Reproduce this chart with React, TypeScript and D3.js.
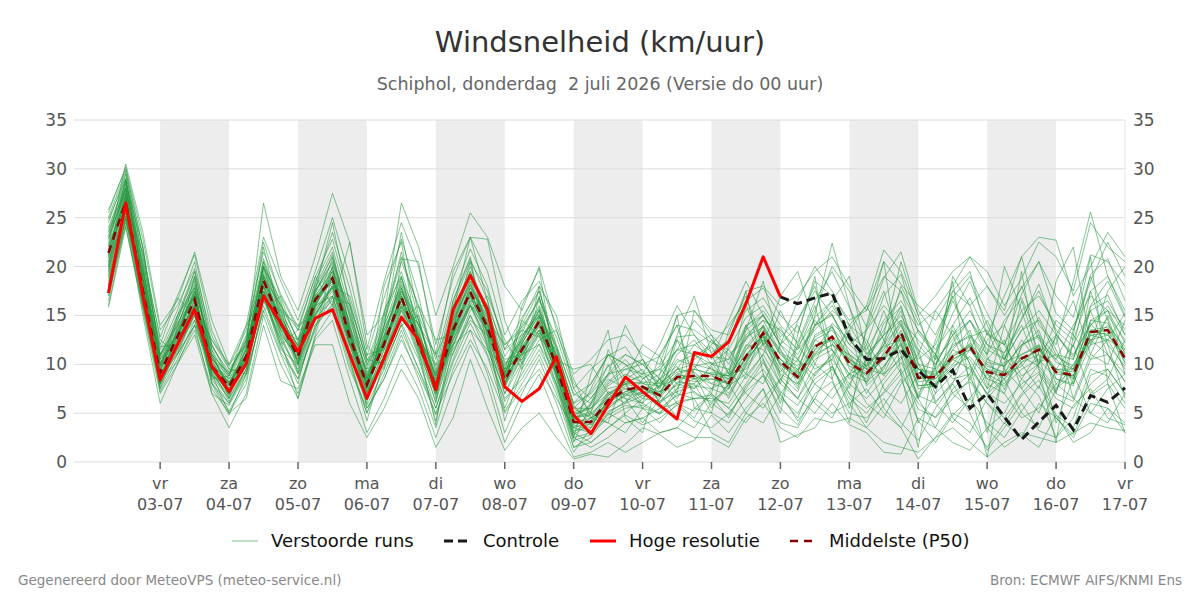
import React, { useMemo } from 'react';
import * as d3 from 'd3';

const dayNames = ['vr', 'za', 'zo', 'ma', 'di', 'wo', 'do', 'vr', 'za', 'zo', 'ma', 'di', 'wo', 'do', 'vr'];
const dayDates = ['03-07', '04-07', '05-07', '06-07', '07-07', '08-07', '09-07', '10-07', '11-07', '12-07', '13-07', '14-07', '15-07', '16-07', '17-07'];
const yTicks = [0, 5, 10, 15, 20, 25, 30, 35];

// hours relative to 03-07 00:00, 6-hourly steps
const firstHour = -18;
const stepHours = 6;

const hogeResolutie = [17.3, 26.5, 17.0, 8.4, 12.0, 15.6, 9.75, 7.2, 10.1, 17.0, 14.2, 11.3, 14.7, 15.6, 11.0, 6.5, 10.6, 14.8, 12.5, 7.4, 15.6, 19.1, 15.6, 7.7, 6.2, 7.5, 10.8, 4.8, 2.9, 5.8, 8.7, 7.2, 5.8, 4.4, 11.2, 10.8, 12.3, 16.2, 21.0, 16.9];
const controleStart = 39;
const controle = [16.9, 16.2, 16.8, 17.3, 12.8, 10.5, 10.6, 11.5, 9.4, 7.7, 9.4, 5.5, 7.0, 4.6, 2.3, 4.1, 5.8, 3.3, 6.8, 6.1, 7.6];
const middelste = [21.4, 26.6, 17.5, 9.1, 12.8, 16.6, 9.8, 7.7, 10.8, 18.6, 14.2, 10.8, 16.6, 18.8, 12.8, 7.9, 12.1, 16.9, 12.1, 7.7, 13.5, 17.4, 13.8, 8.4, 11.5, 14.4, 9.8, 4.1, 4.1, 6.3, 7.4, 7.7, 6.8, 8.7, 8.8, 8.8, 8.1, 10.8, 13.2, 10.3, 8.7, 11.8, 12.8, 10.1, 9.1, 10.8, 13.3, 8.6, 8.7, 10.8, 11.8, 9.2, 8.9, 10.6, 11.5, 9.2, 8.9, 13.3, 13.5, 10.6];

const m01 = [23.5, 28.2, 19.0, 10.5, 14.0, 18.2, 10.6, 8.0, 11.5, 20.1, 15.0, 11.2, 17.5, 20.3, 14.1, 8.5, 13.0, 18.2, 13.4, 8.2, 14.8, 19.0, 15.2, 9.1, 12.4, 15.6, 10.2, 4.5, 5.2, 7.8, 9.0, 8.1, 7.0, 10.2, 11.0, 9.5, 8.8, 12.6, 15.1, 12.0, 9.4, 13.9, 15.2, 11.0, 8.2, 12.5, 16.0, 10.1, 7.6, 12.2, 14.5, 10.8, 7.4, 11.9, 14.8, 11.5, 8.0, 15.9, 17.1, 13.0];
const m02 = [18.0, 25.0, 15.8, 7.5, 11.0, 15.2, 8.5, 6.0, 9.2, 16.8, 12.8, 9.0, 14.8, 16.5, 11.0, 5.8, 9.5, 14.2, 10.5, 5.5, 11.2, 15.0, 11.8, 6.2, 9.0, 12.1, 7.5, 2.2, 2.8, 4.5, 5.5, 5.8, 4.9, 6.2, 6.5, 6.9, 5.5, 8.0, 10.5, 7.2, 5.8, 8.5, 9.8, 6.5, 5.0, 7.2, 9.5, 5.4, 4.6, 7.1, 8.2, 6.0, 3.9, 6.8, 8.4, 4.8, 3.5, 8.9, 9.5, 7.0];
const m03 = [25.5, 30.2, 22.8, 13.5, 16.0, 19.8, 12.9, 9.8, 13.5, 21.5, 17.2, 13.8, 18.9, 22.8, 16.5, 10.2, 15.2, 21.0, 15.8, 10.5, 17.2, 21.8, 18.0, 11.5, 14.8, 17.5, 12.0, 6.8, 8.0, 10.9, 11.8, 9.2, 8.1, 12.8, 13.0, 11.2, 12.5, 15.5, 16.8, 14.0, 12.2, 16.5, 19.5, 15.8, 12.0, 17.0, 19.2, 13.2, 11.0, 15.2, 18.5, 14.0, 10.5, 14.8, 17.5, 13.5, 11.8, 19.2, 20.8, 16.5];
const m04 = [20.5, 27.0, 18.0, 8.2, 13.5, 17.0, 9.5, 7.1, 10.2, 19.2, 14.8, 10.2, 16.2, 19.5, 13.0, 7.0, 11.5, 17.5, 12.8, 7.0, 13.0, 18.0, 14.5, 8.0, 10.8, 14.0, 9.0, 3.5, 3.0, 5.5, 6.8, 7.0, 8.5, 9.8, 7.0, 6.2, 7.5, 11.5, 12.8, 8.5, 6.5, 10.0, 14.2, 12.5, 10.5, 8.8, 11.5, 6.5, 9.8, 13.5, 10.0, 6.8, 11.2, 14.0, 9.5, 7.2, 12.0, 15.5, 11.0, 8.2];
const m05 = [22.0, 29.0, 20.5, 11.8, 12.0, 15.5, 11.0, 9.0, 12.5, 17.5, 13.5, 12.5, 15.5, 17.8, 14.5, 9.2, 11.0, 15.8, 14.2, 9.5, 12.0, 16.5, 15.8, 10.2, 10.5, 13.2, 11.5, 5.8, 3.8, 6.0, 8.5, 9.5, 6.0, 7.5, 10.5, 11.8, 9.0, 9.5, 12.0, 13.8, 10.5, 8.8, 11.0, 13.5, 7.8, 9.5, 13.2, 11.5, 6.2, 8.0, 12.8, 13.5, 9.5, 7.5, 10.0, 12.8, 6.5, 11.0, 15.0, 12.5];
const m06 = [19.5, 26.0, 16.8, 8.8, 12.5, 16.0, 9.0, 7.2, 11.0, 18.0, 13.2, 10.5, 17.0, 18.2, 12.0, 8.5, 12.8, 16.0, 11.5, 8.0, 13.8, 17.0, 13.0, 7.5, 12.2, 15.0, 9.2, 3.0, 4.5, 7.2, 6.5, 6.0, 7.8, 8.5, 7.5, 9.0, 7.0, 10.2, 14.0, 9.8, 7.5, 12.5, 11.5, 9.0, 10.0, 11.8, 12.5, 7.8, 8.0, 9.5, 12.0, 8.5, 10.2, 11.0, 12.0, 8.0, 9.5, 13.0, 12.5, 11.5];
const m07 = [24.0, 28.8, 18.5, 9.8, 13.0, 17.5, 10.2, 8.5, 12.0, 19.8, 15.5, 11.8, 16.0, 19.0, 13.5, 8.0, 13.5, 17.8, 12.5, 7.8, 14.2, 18.5, 13.5, 9.8, 12.8, 15.8, 10.5, 5.0, 6.5, 8.8, 10.5, 8.5, 9.8, 12.5, 10.8, 12.0, 14.0, 16.5, 17.8, 15.0, 13.2, 18.5, 17.0, 14.5, 15.5, 20.5, 18.2, 16.0, 14.5, 17.5, 16.0, 18.0, 15.0, 17.8, 20.5, 15.2, 13.5, 18.5, 22.5, 19.0];
const m08 = [21.0, 27.5, 17.0, 9.5, 12.2, 16.5, 10.0, 7.5, 10.5, 18.2, 14.0, 11.0, 16.8, 18.5, 12.5, 7.5, 12.0, 16.5, 12.0, 7.2, 13.0, 17.2, 14.0, 8.8, 11.8, 14.2, 9.5, 3.8, 3.2, 5.0, 6.2, 7.2, 5.5, 6.8, 7.2, 6.0, 4.8, 7.5, 10.2, 7.0, 4.2, 6.5, 9.8, 6.0, 3.5, 5.8, 8.5, 4.2, 2.0, 4.8, 6.5, 4.0, 2.5, 5.2, 7.8, 4.5, 2.8, 6.8, 8.0, 5.5];
const m09 = [17.0, 25.5, 16.5, 8.0, 13.8, 18.8, 9.8, 6.8, 10.0, 17.0, 12.5, 9.5, 16.0, 20.8, 15.2, 9.0, 14.5, 19.5, 13.8, 6.5, 12.5, 16.2, 12.2, 7.0, 11.0, 14.8, 11.0, 4.8, 5.8, 8.2, 9.8, 10.5, 7.2, 9.5, 9.2, 7.5, 8.5, 12.0, 11.5, 9.2, 11.8, 14.5, 12.2, 8.5, 9.8, 14.2, 15.8, 11.0, 7.0, 9.0, 11.5, 14.5, 10.8, 8.5, 11.2, 13.0, 10.8, 14.2, 12.0, 9.8];
const m10 = [22.8, 27.8, 18.8, 9.0, 11.5, 15.0, 8.8, 7.8, 11.8, 18.8, 14.5, 11.5, 15.2, 17.5, 12.2, 7.2, 10.8, 15.5, 12.8, 8.8, 14.5, 18.2, 14.8, 8.0, 12.0, 13.8, 8.8, 2.8, 4.0, 6.0, 7.8, 6.5, 6.2, 8.0, 9.8, 10.2, 7.8, 9.0, 13.5, 11.5, 8.0, 11.0, 13.0, 10.8, 8.0, 11.2, 14.0, 9.5, 8.8, 11.5, 10.5, 7.5, 9.0, 12.5, 10.2, 11.0, 9.5, 12.0, 14.8, 10.0];
const m11 = [16.0, 24.5, 19.5, 11.5, 15.5, 20.5, 12.0, 8.8, 12.8, 22.5, 16.8, 12.2, 18.2, 23.5, 17.8, 10.8, 16.8, 22.8, 17.0, 9.2, 16.0, 20.5, 17.5, 12.0, 13.8, 16.5, 12.8, 7.5, 9.5, 11.0, 10.0, 8.0, 9.0, 11.5, 14.5, 12.5, 10.0, 13.8, 15.5, 12.8, 14.5, 17.5, 15.0, 12.0, 13.5, 16.0, 14.0, 10.5, 12.0, 16.5, 13.0, 11.0, 14.5, 16.8, 12.5, 10.5, 14.0, 17.0, 15.5, 14.0];
const m12 = [20.0, 26.5, 17.2, 8.5, 12.0, 16.2, 9.2, 6.5, 9.8, 18.5, 14.2, 10.0, 16.5, 19.2, 12.8, 7.8, 11.8, 17.2, 11.8, 6.8, 13.2, 17.5, 13.2, 8.2, 11.2, 14.5, 9.8, 4.2, 3.5, 6.5, 7.0, 7.5, 6.5, 8.8, 8.2, 8.5, 8.0, 10.5, 12.5, 10.0, 8.5, 12.0, 12.5, 10.2, 8.8, 10.5, 13.5, 8.8, 8.5, 10.8, 11.8, 9.5, 8.5, 10.2, 11.8, 9.0, 8.8, 13.5, 13.0, 10.8];
const m13 = [21.8, 27.2, 18.2, 7.2, 10.5, 14.5, 8.2, 5.2, 8.5, 16.0, 11.2, 8.5, 13.8, 16.2, 10.5, 5.0, 9.0, 13.5, 9.5, 4.8, 10.2, 14.2, 10.8, 5.2, 8.0, 11.0, 7.0, 1.5, 2.0, 3.5, 4.8, 3.8, 4.5, 5.8, 4.2, 3.5, 5.0, 7.2, 8.8, 5.5, 3.8, 7.0, 8.2, 5.0, 4.5, 6.5, 4.0, 2.2, 5.5, 8.0, 5.0, 1.2, 3.5, 6.0, 3.2, 2.5, 5.8, 7.5, 4.5, 3.8];
const m14 = [23.0, 29.5, 21.0, 10.0, 13.2, 17.8, 11.5, 8.2, 10.8, 19.5, 15.2, 11.0, 17.2, 21.2, 14.8, 8.8, 12.5, 18.8, 14.5, 8.5, 15.5, 19.5, 15.5, 9.5, 12.5, 16.0, 10.8, 4.5, 4.8, 6.8, 8.0, 9.0, 7.5, 11.0, 12.5, 10.0, 9.5, 13.0, 14.5, 11.2, 10.2, 14.8, 16.5, 12.5, 10.5, 13.5, 17.5, 12.0, 10.0, 13.0, 15.5, 12.0, 11.2, 14.5, 18.2, 13.2, 10.5, 16.0, 18.5, 14.8];
const m15 = [18.5, 25.8, 16.2, 8.0, 13.0, 17.2, 9.5, 7.0, 11.2, 18.0, 13.8, 10.2, 15.8, 18.0, 12.2, 8.2, 12.2, 17.0, 12.2, 7.5, 13.5, 17.8, 14.2, 8.5, 11.5, 14.0, 9.5, 4.0, 3.8, 5.8, 6.8, 7.8, 7.2, 7.8, 8.5, 9.2, 8.8, 11.0, 13.0, 10.5, 9.0, 10.8, 12.0, 11.0, 9.5, 9.0, 12.8, 9.5, 8.2, 10.0, 12.2, 10.0, 9.0, 9.8, 12.0, 10.5, 8.5, 12.5, 14.0, 11.8];
const m16 = [22.5, 26.0, 21.5, 12.5, 11.0, 14.0, 12.5, 9.5, 9.0, 15.5, 17.0, 13.5, 14.0, 16.8, 16.2, 10.5, 10.0, 14.0, 15.0, 10.8, 11.0, 15.5, 17.0, 12.5, 9.5, 12.5, 13.5, 8.5, 4.5, 4.0, 8.8, 10.5, 8.5, 6.5, 9.5, 12.5, 10.8, 8.5, 11.0, 15.5, 12.0, 9.5, 10.5, 14.0, 12.5, 9.0, 10.5, 13.5, 11.0, 8.5, 9.0, 13.2, 12.0, 8.8, 10.0, 14.5, 13.0, 10.5, 12.5, 15.2];
const m17 = [24.8, 29.0, 20.0, 9.2, 14.5, 18.5, 10.8, 8.0, 11.0, 20.5, 15.8, 11.5, 17.8, 21.0, 13.8, 7.5, 13.8, 19.0, 12.8, 7.8, 14.0, 18.8, 14.0, 8.8, 12.8, 15.2, 10.0, 4.2, 6.0, 8.5, 7.5, 6.8, 7.8, 10.5, 9.8, 8.0, 9.2, 12.8, 13.8, 9.0, 8.0, 13.0, 14.0, 9.5, 8.5, 12.0, 15.5, 9.0, 7.5, 11.5, 13.5, 8.0, 7.0, 11.8, 13.5, 8.5, 7.8, 14.5, 15.5, 11.0];
const m18 = [19.0, 25.2, 16.0, 9.8, 13.5, 16.8, 10.2, 8.0, 10.5, 17.8, 13.0, 10.8, 16.2, 18.8, 13.2, 8.0, 12.5, 16.8, 12.5, 8.2, 12.8, 16.8, 13.5, 9.0, 11.8, 13.5, 9.0, 3.5, 4.2, 7.0, 8.2, 8.8, 6.0, 8.2, 8.0, 9.8, 6.5, 10.0, 13.0, 8.8, 7.2, 11.5, 13.8, 10.5, 7.0, 9.8, 12.0, 7.5, 7.8, 10.5, 9.5, 7.0, 8.5, 10.8, 9.8, 7.5, 10.0, 12.5, 11.0, 9.0];
const m19 = [20.2, 27.8, 18.8, 10.8, 14.2, 17.0, 9.0, 6.8, 10.8, 19.0, 14.8, 11.8, 17.5, 19.8, 13.8, 9.5, 14.0, 18.0, 13.0, 8.0, 14.5, 19.2, 16.0, 9.2, 13.2, 16.8, 11.8, 5.5, 7.2, 9.8, 11.0, 10.0, 10.8, 14.0, 13.5, 12.2, 11.5, 14.8, 16.0, 13.2, 11.5, 15.5, 20.0, 17.5, 13.8, 18.8, 21.5, 15.5, 13.0, 16.8, 19.0, 15.2, 12.0, 17.2, 20.5, 17.0, 14.8, 21.2, 20.5, 18.0];
const m20 = [21.2, 26.8, 17.8, 8.8, 12.5, 16.0, 9.8, 7.5, 10.5, 18.0, 14.0, 10.5, 16.0, 18.8, 12.5, 7.2, 11.5, 16.5, 11.8, 7.5, 13.2, 17.0, 13.2, 8.0, 11.2, 14.5, 9.5, 4.0, 4.5, 6.0, 7.2, 7.5, 6.8, 8.5, 8.8, 8.0, 7.5, 10.8, 13.0, 10.5, 8.8, 11.5, 12.5, 9.8, 9.0, 10.5, 12.8, 8.2, 8.5, 10.5, 11.5, 9.0, 8.0, 10.2, 11.0, 9.5, 8.5, 13.0, 13.2, 10.2];
const m21 = [15.8, 24.0, 16.0, 7.8, 11.8, 16.0, 8.0, 4.8, 9.0, 17.5, 12.0, 8.0, 15.0, 17.0, 10.5, 4.2, 10.5, 15.5, 10.8, 4.2, 11.8, 16.0, 12.0, 5.5, 10.0, 13.0, 8.0, 1.5, 2.5, 5.0, 4.0, 4.5, 5.5, 6.0, 5.2, 6.8, 4.5, 7.8, 9.5, 6.8, 4.5, 9.0, 11.0, 7.0, 4.0, 8.0, 10.2, 6.5, 3.5, 7.5, 9.0, 3.5, 5.0, 8.5, 6.8, 2.5, 4.5, 9.5, 8.8, 6.0];
const m22 = [23.8, 28.5, 19.8, 10.2, 12.8, 17.0, 10.5, 8.8, 12.2, 18.5, 14.5, 11.0, 16.8, 19.0, 13.0, 8.2, 12.2, 17.5, 13.2, 8.8, 13.8, 17.8, 14.8, 8.8, 12.0, 15.5, 10.8, 4.8, 5.5, 7.5, 8.0, 8.2, 8.0, 9.5, 10.0, 9.5, 8.5, 11.8, 14.0, 11.0, 9.8, 12.8, 13.8, 11.5, 9.8, 11.5, 14.5, 10.0, 9.5, 11.8, 13.0, 10.5, 9.8, 12.0, 13.0, 10.8, 9.8, 14.0, 15.5, 12.2];
const m23 = [17.8, 25.0, 17.5, 9.5, 13.2, 15.8, 9.5, 6.2, 9.5, 17.2, 13.5, 9.8, 15.5, 18.0, 12.0, 7.0, 11.0, 16.2, 11.2, 7.0, 12.5, 16.5, 12.8, 7.8, 10.5, 13.5, 9.2, 3.2, 3.5, 5.2, 6.0, 6.8, 6.2, 7.2, 7.8, 7.5, 6.8, 9.8, 12.2, 9.5, 7.8, 10.5, 11.5, 9.0, 8.2, 9.8, 12.2, 7.8, 8.0, 9.8, 10.8, 8.5, 7.8, 9.5, 10.5, 8.5, 8.0, 12.0, 12.5, 9.5];
const m24 = [22.2, 30.5, 23.5, 14.0, 16.5, 21.5, 14.5, 10.0, 14.0, 23.0, 18.5, 14.5, 19.5, 25.0, 19.0, 11.5, 18.5, 24.5, 20.0, 12.0, 18.8, 23.0, 19.5, 13.0, 16.5, 18.5, 14.0, 9.0, 10.5, 12.5, 13.0, 11.0, 10.0, 15.0, 15.5, 13.5, 13.0, 17.5, 18.0, 16.0, 17.0, 19.5, 21.0, 18.0, 15.5, 19.0, 17.5, 14.0, 15.5, 18.0, 21.0, 19.5, 16.0, 18.8, 22.5, 21.0, 17.5, 24.5, 22.0, 20.5];
const m25 = [17.0, 24.8, 15.0, 6.0, 10.0, 14.0, 7.0, 3.5, 7.0, 15.0, 10.0, 6.5, 12.5, 14.5, 8.5, 3.0, 6.5, 11.0, 7.5, 2.5, 7.5, 12.0, 8.0, 2.0, 6.0, 9.0, 4.5, 0.5, 1.0, 2.0, 1.0, 2.0, 3.0, 3.5, 2.5, 2.5, 1.5, 4.5, 6.0, 3.5, 2.5, 4.5, 4.0, 4.5, 3.5, 2.0, 1.5, 1.0, 2.5, 3.5, 2.0, 0.5, 2.0, 3.0, 2.5, 2.0, 3.0, 4.0, 3.5, 3.2];
const m26 = [20.8, 27.2, 18.5, 9.8, 12.0, 16.8, 10.8, 7.8, 10.0, 18.8, 14.5, 11.2, 16.5, 18.5, 13.2, 8.2, 12.5, 17.0, 12.5, 8.0, 13.5, 17.2, 13.5, 8.5, 11.5, 14.8, 10.2, 4.5, 5.0, 6.5, 7.5, 7.0, 7.2, 9.0, 8.5, 8.5, 8.2, 10.2, 12.8, 10.0, 8.5, 11.2, 12.8, 10.5, 9.2, 11.0, 13.0, 8.5, 9.0, 11.0, 12.0, 9.8, 9.2, 11.0, 11.8, 9.5, 9.2, 13.5, 13.8, 11.2];
const m27 = [25.0, 29.8, 21.8, 11.0, 15.0, 19.5, 11.8, 9.2, 12.5, 20.8, 16.2, 12.5, 18.5, 22.0, 15.5, 9.8, 14.8, 20.5, 16.0, 9.8, 16.5, 20.8, 16.5, 10.8, 13.5, 16.8, 11.5, 6.0, 7.0, 9.0, 9.5, 10.0, 8.5, 11.5, 12.0, 10.8, 10.5, 14.0, 15.0, 12.5, 11.0, 14.0, 16.0, 13.0, 11.5, 14.5, 16.5, 13.5, 11.5, 14.0, 16.8, 13.0, 12.0, 15.5, 17.0, 14.0, 12.5, 17.5, 19.0, 15.0];
const m28 = [18.2, 26.2, 17.0, 8.2, 11.2, 15.5, 8.8, 6.5, 9.5, 17.5, 13.0, 9.2, 15.2, 17.8, 11.5, 6.8, 10.8, 15.8, 11.0, 6.2, 12.0, 16.0, 12.5, 7.0, 10.2, 13.2, 8.5, 2.5, 3.0, 4.8, 5.8, 5.5, 5.0, 7.0, 6.5, 6.5, 6.0, 8.8, 11.0, 8.0, 6.5, 9.2, 10.5, 8.0, 6.5, 8.5, 10.8, 6.8, 6.0, 8.2, 9.8, 7.0, 6.0, 8.0, 9.2, 7.0, 6.2, 10.5, 11.0, 8.2];
const m29 = [21.5, 28.0, 19.2, 10.0, 13.8, 17.2, 10.0, 8.2, 11.5, 19.2, 14.2, 11.5, 17.0, 19.5, 13.5, 8.0, 12.8, 17.8, 12.8, 7.8, 14.0, 18.2, 14.2, 9.2, 12.2, 15.0, 10.0, 4.5, 4.0, 6.8, 8.2, 8.0, 7.8, 9.2, 9.5, 9.0, 8.8, 11.5, 13.8, 11.0, 9.2, 12.5, 13.5, 11.0, 9.8, 12.0, 14.2, 9.5, 9.2, 12.0, 12.8, 10.2, 9.8, 12.0, 12.8, 10.2, 9.5, 14.5, 14.2, 11.5];
const m30 = [19.8, 26.0, 18.0, 9.0, 12.8, 16.5, 9.8, 7.8, 10.8, 18.5, 14.0, 10.8, 16.5, 18.8, 12.8, 7.8, 12.0, 16.8, 12.0, 7.5, 13.5, 17.5, 13.8, 8.5, 11.5, 14.2, 9.8, 4.2, 4.0, 6.2, 7.2, 7.8, 6.8, 8.8, 8.8, 8.8, 8.0, 10.8, 13.2, 10.2, 8.8, 11.8, 12.8, 10.2, 9.0, 10.8, 13.2, 8.5, 8.8, 10.8, 11.8, 9.2, 8.8, 10.5, 11.5, 9.2, 8.8, 13.2, 13.5, 10.5];
const m31 = [22.8, 28.0, 20.2, 12.0, 16.8, 15.0, 8.5, 8.8, 14.0, 17.2, 12.0, 13.5, 19.0, 16.0, 22.5, 12.0, 9.5, 20.8, 20.5, 11.0, 19.5, 23.0, 22.8, 14.5, 10.0, 18.0, 15.0, 7.5, 5.0, 11.5, 8.5, 12.0, 10.8, 7.0, 15.5, 13.0, 9.0, 16.0, 12.0, 17.0, 19.5, 14.0, 16.5, 19.0, 11.0, 13.0, 20.5, 15.0, 9.5, 19.0, 16.0, 11.0, 20.0, 15.5, 10.0, 18.5, 22.0, 12.0, 17.5, 20.0];
const m32 = [19.2, 26.8, 17.8, 8.5, 10.2, 13.5, 7.5, 5.0, 6.5, 14.0, 8.3, 7.5, 12.0, 12.0, 6.0, 2.5, 5.5, 9.5, 6.5, 1.5, 4.5, 10.5, 5.5, 1.2, 3.5, 5.0, 2.5, 0.3, 0.8, 0.5, 1.8, 3.5, 2.8, 1.5, 2.2, 4.8, 3.0, 5.5, 7.5, 2.0, 2.8, 3.5, 6.0, 3.8, 3.0, 1.0, 0.8, 4.5, 3.5, 2.0, 1.2, 3.5, 1.5, 2.8, 1.5, 4.8, 2.0, 3.0, 5.5, 3.0];
const m33 = [24.5, 29.5, 21.0, 12.8, 17.0, 21.2, 13.5, 9.5, 12.0, 26.5, 19.0, 15.5, 21.0, 27.5, 22.5, 13.0, 15.0, 26.5, 22.0, 15.0, 20.0, 25.5, 23.0, 18.0, 15.5, 20.0, 13.5, 8.0, 6.5, 9.0, 14.0, 10.5, 7.5, 13.0, 17.0, 11.0, 7.5, 13.5, 18.5, 11.5, 9.0, 15.0, 22.4, 16.0, 9.5, 12.0, 18.0, 14.5, 10.5, 17.5, 19.5, 13.0, 17.0, 21.0, 14.0, 12.0, 18.5, 25.6, 19.0, 15.5];
const m34 = [16.5, 25.0, 17.8, 10.8, 14.5, 19.5, 11.5, 6.5, 11.8, 20.0, 16.5, 9.0, 13.5, 20.0, 13.5, 6.0, 15.5, 19.0, 11.5, 3.8, 13.5, 20.5, 13.0, 4.2, 9.5, 17.0, 8.5, 2.0, 6.0, 10.0, 6.5, 4.0, 6.5, 12.5, 9.0, 5.5, 8.0, 14.0, 10.5, 6.0, 12.0, 16.0, 10.0, 5.5, 10.5, 15.5, 11.0, 4.0, 7.0, 14.0, 10.0, 3.0, 9.5, 16.5, 11.0, 4.0, 8.5, 17.5, 12.0, 6.5];
const m35 = [20.0, 28.5, 22.0, 11.0, 13.0, 16.0, 12.5, 10.0, 12.0, 16.5, 15.5, 14.0, 15.0, 18.0, 17.0, 11.0, 11.5, 14.5, 16.0, 12.5, 13.0, 16.0, 14.5, 12.0, 13.5, 12.8, 10.5, 9.5, 10.0, 7.0, 6.0, 8.5, 9.5, 8.0, 7.5, 10.0, 11.5, 9.0, 8.0, 12.0, 14.0, 10.0, 8.5, 13.5, 16.0, 12.5, 9.0, 11.0, 15.5, 13.0, 8.5, 12.5, 14.0, 10.0, 7.5, 13.0, 16.5, 11.0, 10.0, 14.5];
const m36 = [23.2, 27.5, 16.5, 7.5, 12.2, 14.5, 9.2, 8.2, 10.5, 17.0, 11.5, 10.0, 14.5, 17.0, 11.2, 8.8, 13.5, 17.5, 14.5, 8.5, 12.0, 13.5, 11.5, 9.5, 14.5, 13.0, 7.8, 3.0, 2.0, 3.5, 5.0, 6.5, 8.5, 6.0, 4.5, 7.5, 9.5, 7.0, 5.5, 8.5, 10.5, 8.0, 6.5, 9.0, 12.0, 7.5, 6.0, 9.0, 11.0, 7.0, 5.5, 10.5, 12.5, 7.5, 5.0, 9.5, 12.0, 7.0, 8.5, 12.5];
const m37 = [21.0, 28.8, 19.0, 9.5, 14.8, 19.0, 11.0, 7.5, 11.5, 20.5, 15.5, 10.0, 18.0, 21.5, 14.0, 7.5, 14.0, 21.5, 14.5, 8.0, 15.0, 20.0, 15.0, 9.0, 14.0, 17.5, 11.0, 6.0, 8.0, 11.0, 10.0, 9.0, 12.0, 16.0, 13.0, 10.5, 14.5, 18.5, 15.0, 12.0, 16.5, 20.0, 17.5, 14.0, 16.0, 21.7, 19.5, 15.0, 17.0, 19.5, 21.0, 18.0, 15.5, 21.0, 23.0, 22.7, 17.0, 20.0, 23.5, 21.0];
const m38 = [18.8, 26.5, 17.5, 8.0, 11.5, 15.0, 10.5, 9.2, 10.0, 16.5, 13.8, 12.0, 16.0, 17.0, 12.0, 9.5, 10.5, 15.0, 12.5, 10.0, 11.5, 14.5, 13.0, 10.5, 11.0, 12.0, 9.0, 5.5, 4.5, 5.5, 7.0, 6.0, 5.0, 7.5, 8.0, 5.0, 4.0, 6.5, 9.0, 6.5, 5.0, 8.0, 9.5, 7.0, 5.5, 7.0, 9.0, 6.0, 4.5, 6.5, 8.5, 6.0, 4.5, 7.0, 9.0, 6.5, 5.5, 8.0, 9.5, 7.0];
const m39 = [22.0, 27.0, 18.0, 9.8, 15.0, 17.8, 8.0, 6.0, 9.5, 20.0, 13.5, 10.5, 15.8, 20.0, 12.0, 6.5, 18.0, 22.5, 12.0, 6.0, 16.5, 21.0, 11.5, 7.5, 16.0, 19.8, 9.0, 2.5, 9.0, 13.5, 4.5, 3.0, 9.0, 15.0, 5.5, 5.0, 12.0, 17.5, 9.0, 5.0, 13.0, 19.0, 8.5, 4.0, 14.0, 20.5, 9.0, 1.5, 11.0, 18.5, 7.5, 0.5, 10.0, 19.5, 9.5, 2.0, 13.0, 21.0, 8.0, 3.0];
const m40 = [20.5, 25.5, 16.8, 9.2, 13.5, 17.5, 9.0, 5.0, 8.0, 16.5, 12.5, 6.5, 13.0, 19.0, 13.5, 5.5, 8.5, 13.0, 8.5, 3.5, 9.5, 13.5, 9.0, 3.0, 7.0, 10.5, 6.0, 1.0, 3.5, 6.5, 8.0, 5.5, 4.0, 6.0, 6.5, 3.0, 2.0, 5.0, 7.5, 4.0, 3.5, 6.5, 5.0, 6.0, 7.5, 5.0, 3.5, 0.3, 2.5, 5.0, 4.0, 1.5, 4.0, 2.5, 6.0, 4.5, 2.5, 6.0, 5.5, 4.0];
const m41 = [25.8, 30.0, 22.0, 10.5, 13.0, 17.5, 12.0, 8.5, 11.0, 19.0, 16.0, 13.5, 17.0, 19.5, 16.0, 10.5, 12.0, 16.5, 14.0, 11.0, 14.5, 18.5, 16.0, 11.5, 13.0, 15.0, 11.8, 7.0, 6.0, 9.0, 11.0, 10.0, 8.0, 9.5, 12.0, 13.0, 11.0, 12.5, 14.5, 13.5, 11.5, 13.5, 15.5, 14.0, 11.0, 13.0, 14.5, 12.5, 10.5, 12.5, 14.5, 12.0, 10.5, 13.5, 15.5, 13.0, 11.0, 14.0, 16.0, 13.0];
const m42 = [17.5, 24.2, 15.5, 7.0, 10.0, 13.0, 7.0, 5.8, 9.0, 15.5, 11.0, 7.0, 12.8, 15.5, 9.5, 5.5, 8.5, 12.5, 9.0, 5.0, 9.0, 12.5, 9.5, 5.0, 7.5, 9.5, 6.5, 3.5, 5.0, 4.0, 3.0, 5.5, 7.0, 4.5, 3.5, 6.0, 8.0, 5.0, 4.0, 7.0, 9.5, 6.0, 4.5, 8.0, 10.5, 5.5, 3.5, 7.0, 9.5, 4.5, 3.0, 6.5, 8.5, 5.0, 3.5, 7.5, 9.0, 5.0, 4.0, 7.0];
const m43 = [21.2, 29.0, 20.0, 10.2, 12.0, 19.0, 10.5, 7.0, 12.5, 22.0, 14.5, 12.0, 17.5, 24.5, 16.0, 8.5, 14.0, 23.5, 15.0, 7.5, 15.5, 23.0, 16.5, 8.0, 14.5, 18.0, 10.0, 4.0, 7.5, 11.0, 8.0, 6.0, 11.0, 14.0, 8.5, 7.0, 13.5, 17.0, 12.0, 8.0, 14.5, 18.0, 11.5, 7.5, 13.5, 17.5, 12.0, 6.5, 12.5, 17.0, 12.5, 7.5, 14.0, 18.0, 13.0, 7.0, 13.5, 19.0, 14.5, 9.0];
const m44 = [19.5, 27.5, 18.5, 9.0, 11.0, 14.0, 9.5, 7.0, 10.0, 17.0, 11.8, 8.5, 14.0, 16.0, 10.0, 5.0, 10.0, 14.0, 9.5, 5.5, 10.5, 15.0, 11.0, 6.5, 8.5, 11.5, 8.0, 2.5, 1.5, 2.5, 4.0, 4.5, 3.0, 3.5, 5.5, 7.0, 5.5, 4.0, 6.5, 8.5, 6.5, 5.0, 7.5, 9.0, 6.0, 4.5, 8.0, 10.0, 6.0, 4.0, 6.5, 9.0, 7.0, 4.5, 5.5, 8.0, 6.5, 5.0, 7.5, 9.0];
const m45 = [23.5, 28.0, 19.5, 11.0, 14.0, 18.0, 11.0, 9.0, 13.0, 20.0, 16.0, 12.5, 17.5, 20.5, 15.0, 10.0, 13.0, 18.5, 14.0, 9.0, 15.0, 19.5, 15.0, 10.0, 12.5, 15.5, 10.5, 5.0, 5.5, 8.0, 9.5, 9.0, 9.5, 11.5, 11.0, 10.0, 10.5, 13.5, 15.0, 12.0, 10.5, 14.0, 15.0, 12.0, 10.5, 13.0, 15.0, 11.5, 10.0, 13.0, 14.5, 11.5, 10.5, 13.5, 14.5, 11.0, 10.5, 15.5, 16.5, 13.5];
const m46 = [18.0, 26.0, 18.5, 10.5, 12.5, 15.5, 10.0, 8.0, 11.0, 17.5, 14.0, 11.5, 15.0, 18.0, 13.0, 8.5, 12.0, 16.0, 13.0, 9.0, 12.5, 16.0, 13.5, 9.5, 11.0, 13.5, 10.0, 5.5, 5.5, 7.0, 8.0, 7.5, 7.0, 9.0, 9.5, 9.0, 8.5, 10.5, 12.5, 10.5, 9.5, 11.0, 12.0, 10.5, 9.5, 10.5, 12.0, 9.5, 9.0, 10.5, 11.5, 9.5, 9.0, 10.5, 11.5, 9.5, 9.5, 12.5, 13.0, 11.0];

const members = [m01, m02, m03, m04, m05, m06, m07, m08, m09, m10, m11, m12, m13, m14, m15, m16, m17, m18, m19, m20, m21, m22, m23, m24, m25, m26, m27, m28, m29, m30, m31, m32, m33, m34, m35, m36, m37, m38, m39, m40, m41, m42, m43, m44, m45, m46];

const W = 1200;
const H = 600;
const plot = { left: 74, right: 1125, top: 120, bottom: 462 };
const FONT = '"DejaVu Sans", Verdana, sans-serif';
const GREEN = 'rgb(34,150,60)';

export default function App() {
  const x = useMemo(() => d3.scaleLinear().domain([-30, 336]).range([plot.left, plot.right]), []);
  const y = useMemo(() => d3.scaleLinear().domain([0, 35]).range([plot.bottom, plot.top]), []);

  const line = (offset: number) =>
    d3.line<number>()
      .x((_, i) => x(firstHour + (i + offset) * stepHours))
      .y(d => y(d));

  const dayX = (i: number) => x(i * 24);

  const legendY = 541;

  return (
    <svg width={W} height={H} style={{ position: 'absolute', left: 0, top: 0, background: '#fff' }} fontFamily={FONT}>
      <defs>
        <clipPath id="plotclip">
          <rect x={plot.left} y={plot.top - 5} width={plot.right - plot.left + 1} height={plot.bottom - plot.top + 10} />
        </clipPath>
      </defs>
      <text x={600} y={52} textAnchor="middle" fontSize={29} fill="#333">Windsnelheid (km/uur)</text>
      <text x={600} y={90} textAnchor="middle" fontSize={17.5} fill="#666" style={{ whiteSpace: 'pre' }}>Schiphol, donderdag  2 juli 2026 (Versie do 00 uur)</text>

      {dayNames.slice(0, -1).map((_, i) =>
        i % 2 === 0 ? (
          <rect key={`band-${i}`} x={dayX(i)} y={plot.top} width={dayX(i + 1) - dayX(i)} height={plot.bottom - plot.top} fill="#ededed" />
        ) : null
      )}

      {yTicks.map(t => (
        <line key={`grid-${t}`} x1={plot.left} x2={plot.right} y1={y(t)} y2={y(t)} stroke="#dcdcdc" strokeWidth={1} />
      ))}
      <line x1={plot.right} x2={plot.right} y1={plot.top} y2={plot.bottom} stroke="#e6e6e6" strokeWidth={1} />

      {yTicks.map(t => (
        <g key={`yl-${t}`} fontSize={17} fill="#555">
          <text x={67} y={y(t) + 6} textAnchor="end">{t}</text>
          <text x={1133} y={y(t) + 6} textAnchor="start">{t}</text>
        </g>
      ))}

      <g fill="none" stroke={GREEN} strokeOpacity={0.55} strokeWidth={1} clipPath="url(#plotclip)">
        {members.map((m, k) => (
          <path key={`m-${k}`} d={line(0)(m) || ''} />
        ))}
      </g>

      <path d={line(controleStart)(controle) || ''} fill="none" stroke="#1a1a1a" strokeWidth={3} strokeDasharray="9,5" />
      <path d={line(0)(middelste) || ''} fill="none" stroke="#8b0000" strokeWidth={2.5} strokeDasharray="8,6" />
      <path d={line(0)(hogeResolutie) || ''} fill="none" stroke="#ff0000" strokeWidth={3} strokeLinejoin="round" />

      {dayNames.map((d, i) => (
        <g key={`xt-${i}`}>
          <line x1={dayX(i)} x2={dayX(i)} y1={plot.bottom} y2={plot.bottom + 7} stroke="#666" strokeWidth={1.5} />
          <text x={dayX(i)} y={489} textAnchor="middle" fontSize={16} fill="#555">{d}</text>
          <text x={dayX(i)} y={510} textAnchor="middle" fontSize={16} fill="#555">{dayDates[i]}</text>
        </g>
      ))}

      <g fontSize={18} fill="#111">
        <line x1={232} x2={258} y1={legendY} y2={legendY} stroke={GREEN} strokeOpacity={0.6} strokeWidth={1} />
        <text x={271} y={legendY + 6}>Verstoorde runs</text>
        <line x1={444} x2={470} y1={legendY} y2={legendY} stroke="#1a1a1a" strokeWidth={3} strokeDasharray="9,5" />
        <text x={483} y={legendY + 6}>Controle</text>
        <line x1={590} x2={616} y1={legendY} y2={legendY} stroke="#ff0000" strokeWidth={3} />
        <text x={629} y={legendY + 6}>Hoge resolutie</text>
        <line x1={790} x2={816} y1={legendY} y2={legendY} stroke="#8b0000" strokeWidth={2.5} strokeDasharray="8,6" />
        <text x={829} y={legendY + 6}>Middelste (P50)</text>
      </g>

      <text x={18} y={585} fontSize={13.5} fill="#888">Gegenereerd door MeteoVPS (meteo-service.nl)</text>
      <text x={1182} y={585} fontSize={13.5} fill="#888" textAnchor="end">Bron: ECMWF AIFS/KNMI Ens</text>
    </svg>
  );
}
